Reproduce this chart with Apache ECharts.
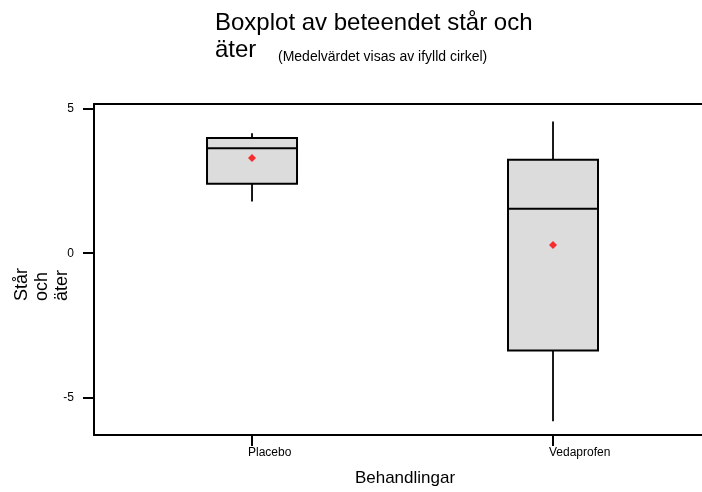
<!DOCTYPE html>
<html>
<head>
<meta charset="utf-8">
<script src="https://cdn.jsdelivr.net/npm/echarts@6/dist/echarts.min.js"></script>
<style>
  html, body { margin: 0; padding: 0; background: #fff; }
  #main { width: 702px; height: 492px; }
</style>
</head>
<body>
<div id="main"></div>
<script>
// data
let categories = ['Placebo', 'Vedaprofen'];
let lowWhisker = [1.79, -5.82];
let q1 = [2.41, -3.37];
let median = [3.64, 1.54];
let q3 = [3.99, 3.24];
let highWhisker = [4.16, 4.56];
let means = [3.30, 0.28];
let yTicks = [-5, 0, 5];

let font = 'Liberation Sans, Arial, sans-serif';

let myChart = echarts.init(document.getElementById('main'));

let boxData = categories.map((c, i) => [i, lowWhisker[i], q1[i], median[i], q3[i], highWhisker[i]]);
let meanData = categories.map((c, i) => [i, means[i]]);

function renderBox(params, api) {
    let x = api.value(0);
    let pLow = api.coord([x, api.value(1)]);
    let pQ1 = api.coord([x, api.value(2)]);
    let pMed = api.coord([x, api.value(3)]);
    let pQ3 = api.coord([x, api.value(4)]);
    let pHigh = api.coord([x, api.value(5)]);
    let half = 45;
    let cx = pMed[0];
    let whisker = { stroke: '#000', lineWidth: 1.8 };
    return {
        type: 'group',
        children: [
            { type: 'line', shape: { x1: cx, y1: pHigh[1], x2: cx, y2: pQ3[1] }, style: whisker },
            { type: 'line', shape: { x1: cx, y1: pQ1[1], x2: cx, y2: pLow[1] }, style: whisker },
            { type: 'rect', shape: { x: cx - half, y: pQ3[1], width: half * 2, height: pQ1[1] - pQ3[1] },
              style: { fill: '#dcdcdc', stroke: '#000', lineWidth: 2 } },
            { type: 'line', shape: { x1: cx - half, y1: pMed[1], x2: cx + half, y2: pMed[1] },
              style: { stroke: '#000', lineWidth: 2 } }
        ]
    };
}

let axisStroke = { color: '#000', width: 2 };

let option = {
    animation: false,
    title: [
        {
            text: 'Boxplot av beteendet står och\näter',
            left: 210,
            top: 5,
            textStyle: { fontFamily: font, fontSize: 24, fontWeight: 'normal', color: '#000', lineHeight: 27 }
        },
        {
            text: '(Medelvärdet visas av ifylld cirkel)',
            left: 273,
            top: 45,
            textStyle: { fontFamily: font, fontSize: 14, fontWeight: 'normal', color: '#000' }
        }
    ],
    grid: {
        left: 94,
        top: 104,
        right: 0,
        bottom: 55
    },
    // frame runs off the right edge of the picture, so only top, left and bottom lines
    xAxis: [
        {
            type: 'value',
            position: 'bottom',
            min: -0.525,
            max: 1.495,
            name: 'Behandlingar',
            nameLocation: 'middle',
            nameGap: 35,
            nameTextStyle: { fontFamily: font, fontSize: 17, color: '#000', padding: [0, 0, 0, 14] },
            axisLine: { show: true, onZero: false, lineStyle: axisStroke },
            splitLine: { show: false },
            axisTick: { show: true, customValues: [0, 1], length: 11, lineStyle: axisStroke },
            axisLabel: {
                customValues: [0, 1],
                formatter: v => categories[Math.round(v)],
                align: 'left',
                padding: [0, 0, 0, -4],
                margin: 12,
                fontFamily: font,
                fontSize: 12,
                color: '#000'
            }
        },
        {
            type: 'value',
            position: 'top',
            min: -0.525,
            max: 1.495,
            axisLine: { show: true, onZero: false, lineStyle: axisStroke },
            axisTick: { show: false },
            axisLabel: { show: false },
            splitLine: { show: false }
        }
    ],
    yAxis: {
        type: 'value',
        min: -6.3,
        max: 5.17,
        axisLine: { show: true, onZero: false, lineStyle: axisStroke },
        splitLine: { show: false },
        axisTick: { show: true, customValues: yTicks, length: 11, lineStyle: axisStroke },
        axisLabel: {
            customValues: yTicks,
            margin: 20,
            fontFamily: font,
            fontSize: 12,
            color: '#000'
        }
    },
    graphic: [
        {
            type: 'text',
            x: 12,
            y: 301,
            rotation: Math.PI / 2,
            style: {
                text: 'Står\noch\näter',
                font: '18px ' + font,
                fill: '#000',
                align: 'left',
                verticalAlign: 'top',
                lineHeight: 20
            }
        }
    ],
    series: [
        {
            name: 'box',
            type: 'custom',
            renderItem: renderBox,
            encode: { x: 0, y: [1, 2, 3, 4, 5] },
            data: boxData,
            z: 2
        },
        {
            name: 'Medelvärde',
            type: 'scatter',
            symbol: 'diamond',
            symbolSize: 8,
            itemStyle: { color: '#ff0000' },
            data: meanData,
            z: 3
        }
    ]
};

myChart.setOption(option);
</script>
</body>
</html>
